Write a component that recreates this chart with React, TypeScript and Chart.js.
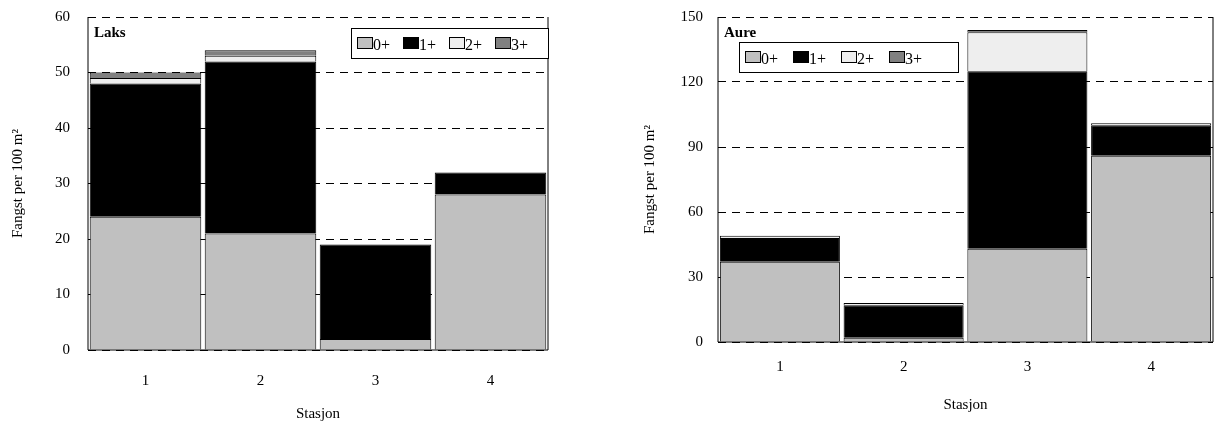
import React, { useEffect, useRef } from 'react'
import { Chart, registerables } from 'chart.js'

Chart.register(...registerables)

const stations = ['1', '2', '3', '4']
const ageClasses = ['0+', '1+', '2+', '3+']
const ageColors = ['#c0c0c0', '#000000', '#eeeeee', '#808080']

const laks0 = [24, 21, 2, 28]
const laks1 = [24, 31, 17, 4]
const laks2 = [1, 1, 0, 0]
const laks3 = [1, 1, 0, 0]

const aure0 = [37, 2, 43, 86]
const aure1 = [11, 15, 82, 14]
const aure2 = [1, 1, 18, 1]
const aure3 = [0, 0, 1, 0]

const FONT = '"Liberation Serif", "Times New Roman", serif'

interface PanelProps {
	title: string
	series: number[][]
	max: number
	step: number
	width: number
	legend: { x: number; y: number; w: number; gap: number }
	padding: { left: number; right: number; top: number; bottom: number }
	xHeight: number
	yWidth: number
	tickPad: number
	titlePadBottom: number
	yTickPad: number
	yTitlePad: number
}

const Panel: React.FC<PanelProps> = (p) => {
	const ref = useRef<HTMLCanvasElement>(null)

	useEffect(() => {
		if (!ref.current) return
		const decor = {
			id: 'decor',
			afterDraw(chart: Chart) {
				const { ctx, chartArea: a } = chart
				ctx.save()
				ctx.strokeStyle = '#000'
				ctx.lineWidth = 1
				ctx.setLineDash([])
				ctx.beginPath()
				ctx.moveTo(a.left, a.top)
				ctx.lineTo(a.left, a.bottom)
				ctx.lineTo(a.right, a.bottom)
				ctx.lineTo(a.right, a.top)
				ctx.stroke()
				ctx.fillStyle = '#000'
				ctx.font = `bold 15px ${FONT}`
				ctx.textBaseline = 'top'
				ctx.fillText(p.title, a.left + 6, a.top + 9)
				// legend box
				const lx = a.left + p.legend.x
				const ly = a.top + p.legend.y
				const h = 30
				ctx.fillStyle = '#fff'
				ctx.fillRect(lx, ly, p.legend.w, h)
				ctx.strokeRect(lx + 0.5, ly + 0.5, p.legend.w, h)
				ctx.font = `16px ${FONT}`
				ctx.textBaseline = 'middle'
				let x = lx + 6
				ageClasses.forEach((lbl, i) => {
					ctx.fillStyle = ageColors[i]
					ctx.fillRect(x, ly + 9, 15, 11)
					ctx.strokeRect(x + 0.5, ly + 9.5, 15, 11)
					ctx.fillStyle = '#000'
					ctx.fillText(lbl, x + 16, ly + 18)
					x += p.legend.gap
				})
				ctx.restore()
			},
		}
		const chart = new Chart(ref.current, {
			type: 'bar',
			data: {
				labels: stations,
				datasets: p.series.map((d, i) => ({
					label: ageClasses[i],
					data: d,
					backgroundColor: ageColors[i],
					borderColor: '#000',
					borderWidth: 1,
					barPercentage: 1,
					categoryPercentage: 0.97,
				})),
			},
			options: {
				animation: false,
				responsive: false,
				layout: { padding: p.padding },
				plugins: { legend: { display: false }, tooltip: { enabled: false } },
				scales: {
					x: {
						stacked: true,
						afterFit: (s: any) => {
							s.height = p.xHeight
							s.paddingLeft = 0
							s.paddingRight = 0
						},
						grid: { display: false },
						border: { display: false },
						ticks: { color: '#000', font: { family: FONT, size: 15 }, padding: p.tickPad },
						title: { display: true, text: 'Stasjon', color: '#000', font: { family: FONT, size: 15 }, padding: { top: 4, bottom: p.titlePadBottom } },
					},
					y: {
						stacked: true,
						min: 0,
						max: p.max,
						afterFit: (s: any) => {
							s.width = p.yWidth
							s.paddingTop = 0
							s.paddingBottom = 0
						},
						ticks: { stepSize: p.step, color: '#000', font: { family: FONT, size: 15 }, padding: p.yTickPad },
						grid: { color: '#000', lineWidth: 1, drawTicks: false },
						border: { display: false, dash: [8, 6] },
						title: { display: true, text: 'Fangst per 100 m²', color: '#000', font: { family: FONT, size: 15 }, padding: { top: p.yTitlePad, bottom: 4 } },
					},
				},
			},
			plugins: [decor],
		})
		return () => chart.destroy()
	}, [])

	return <canvas ref={ref} width={p.width} height={425} style={{ display: 'block' }} />
}

export default function App() {
	return (
		<div style={{ position: 'absolute', left: 0, top: 0, width: 1218, height: 425, background: '#fff' }}>
			<div style={{ position: 'absolute', left: 0, top: 0 }}>
				<Panel
					title="Laks"
					series={[laks0, laks1, laks2, laks3]}
					max={60}
					step={10}
					width={620}
					legend={{ x: 263, y: 11, w: 197, gap: 46 }}
					padding={{ left: 0, right: 72, top: 17, bottom: 0 }}
					xHeight={75}
					yWidth={88}
					tickPad={14}
					titlePadBottom={2}
					yTickPad={18}
					yTitlePad={9}
				/>
			</div>
			<div style={{ position: 'absolute', left: 633, top: 0 }}>
				<Panel
					title="Aure"
					series={[aure0, aure1, aure2, aure3]}
					max={150}
					step={30}
					width={585}
					legend={{ x: 21, y: 25, w: 219, gap: 48 }}
					padding={{ left: 0, right: 5, top: 17, bottom: 0 }}
					xHeight={83}
					yWidth={85}
					tickPad={8}
					titlePadBottom={11}
					yTickPad={15}
					yTitlePad={8}
				/>
			</div>
		</div>
	)
}
